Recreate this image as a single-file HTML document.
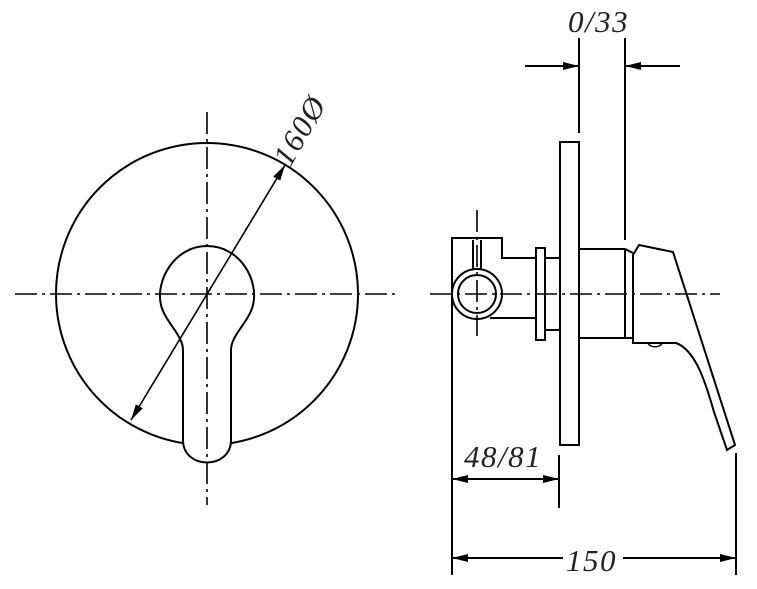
<!DOCTYPE html>
<html><head><meta charset="utf-8"><style>body{margin:0;background:#fff}svg{display:block}</style></head>
<body>
<svg width="757" height="589" viewBox="0 0 757 589" xmlns="http://www.w3.org/2000/svg">
<defs>
<marker id="a" viewBox="0 0 12 6" refX="12" refY="3" markerWidth="16" markerHeight="8" markerUnits="userSpaceOnUse" orient="auto-start-reverse"><path d="M0,0 L12,3 L0,6 Z" fill="#000"/></marker>
</defs>
<g fill="none" stroke="#000" stroke-width="2">
<circle cx="207" cy="294" r="151"/>
<path d="M183,440 L183,350 C183,335 165,322 161,305 C155,280 175,246 207,246 C240,246 259,280 253,305 C249,322 231,335 231,350 L231,440 C231,470 183,470 183,440 Z" fill="#fff"/>
<path d="M131,420 L285,165" marker-end="url(#a)" marker-start="url(#a)" stroke-width="1.6"/>
<path d="M452,575 L452,238 L502,238 L502,258 L536,258"/>
<path d="M490,318 L536,318"/>
<rect x="536" y="248" width="9" height="92"/>
<path d="M545,258 L560,258 M545,330 L560,330"/>
<circle cx="477" cy="294" r="25"/>
<circle cx="477" cy="294" r="19"/>
<path d="M473,240 L473,270 M481,240 L481,270"/>
<rect x="560" y="142" width="19" height="303" fill="#fff"/>
<path d="M579,249 L625,249 L633,253 M579,338 L633,338 M625,249 L625,338"/>
<path d="M633,255 L639,245 L673,252 L735,445 L727,450 L714,412 C705,380 695,350 676,343 L633,343 Z"/>
<path d="M648,343 C650,348 660,348 662,343" stroke-width="1.5"/>
<path d="M579,38 L579,133 M625,38 L625,240 M559,455 L559,508 M736,453 L736,575"/>
</g>
<g stroke="#000" stroke-width="2" fill="none">
<path d="M525,66 L579,66" marker-end="url(#a)"/>
<path d="M680,66 L625,66" marker-end="url(#a)"/>
<path d="M505,479 L452,479" marker-end="url(#a)"/>
<path d="M505,479 L559,479" marker-end="url(#a)"/>
<path d="M563,558 L452,558" marker-end="url(#a)"/>
<path d="M623,558 L736,558" marker-end="url(#a)"/>
</g>
<g stroke="#000" stroke-width="1.6" stroke-dasharray="22,5,3,5" fill="none">
<path d="M15,294 L400,294"/>
<path d="M207,112 L207,505"/>
<path d="M430,294 L720,294"/>
<path d="M477,210 L477,336"/>
</g>
<g font-family="Liberation Serif, serif" font-style="italic" font-size="31" fill="#222" letter-spacing="1.5">
<text x="568" y="32">0/33</text>
<text x="464" y="467">48/81</text>
<text x="566" y="571">150</text>
<text x="0" y="0" transform="translate(290,168) rotate(-60)">160Ø</text>
</g>
</svg>
</body></html>
